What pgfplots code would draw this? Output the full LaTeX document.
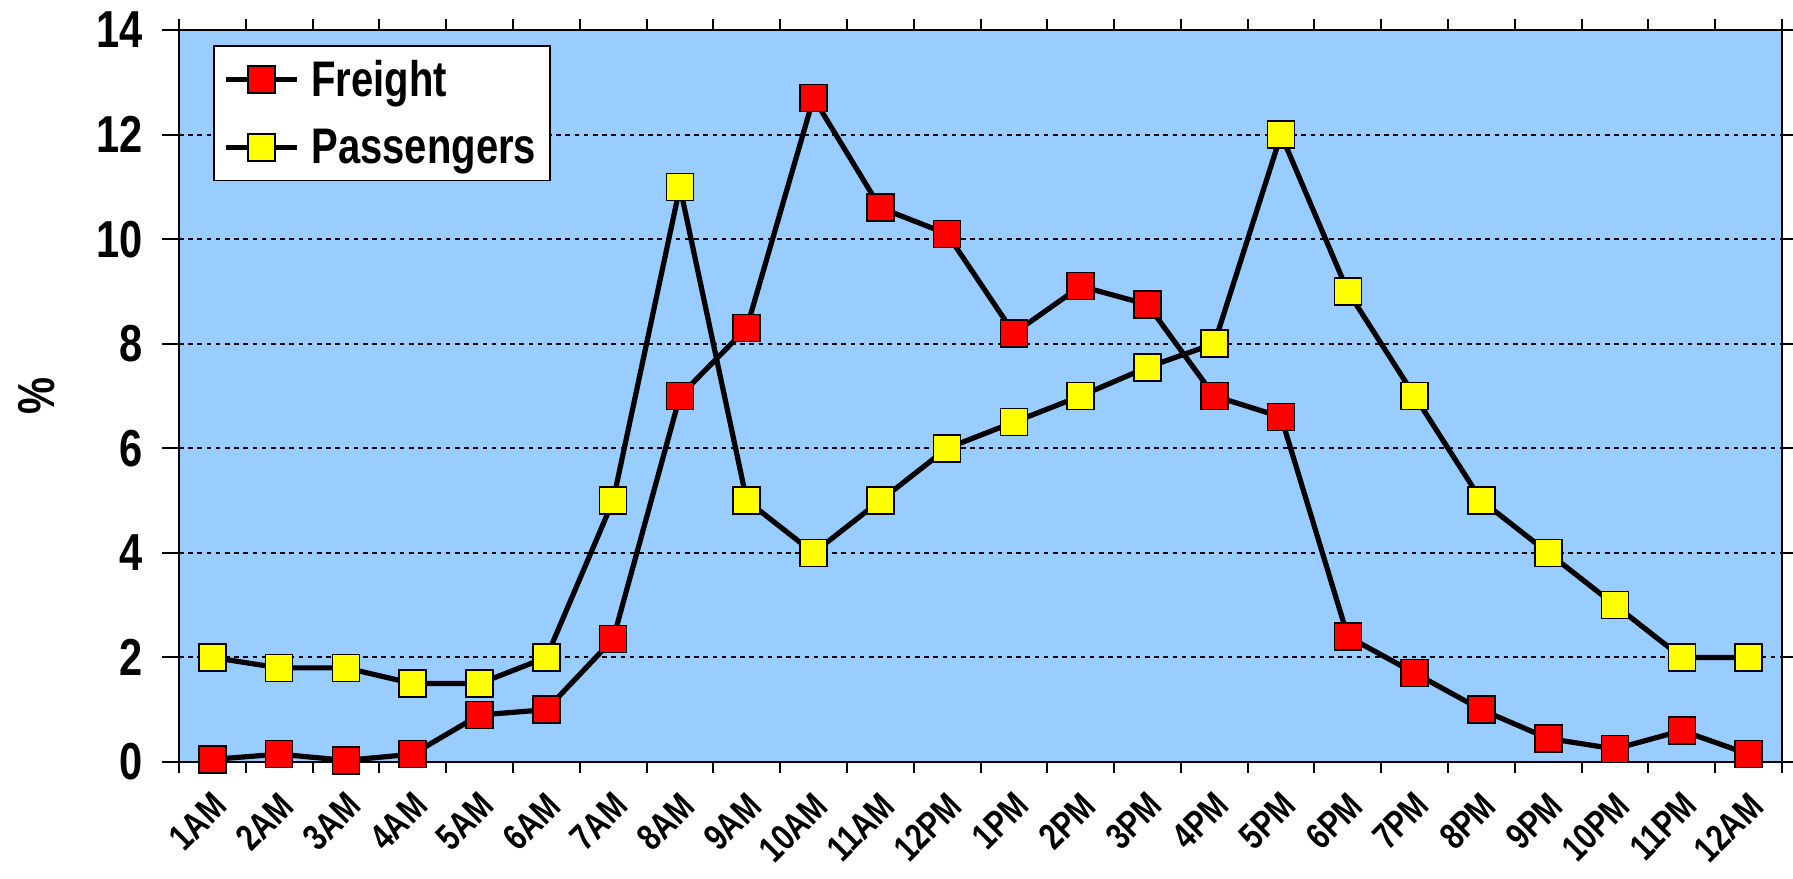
\documentclass[border=0pt]{standalone}
\usepackage{pgfplots}
\pgfplotsset{compat=1.18}
\usepackage{fontspec}
\setmainfont{Liberation Sans}[FakeStretch=0.8]
\definecolor{bgblue}{HTML}{99CCFF}
\definecolor{fred}{HTML}{FF0000}
\definecolor{pyel}{HTML}{FFFF00}
\begin{document}
\begin{tikzpicture}
\useasboundingbox (-89.5pt,-58pt) rectangle (807pt,381pt);
\begin{axis}[
  scale only axis,
  width=801.5pt, height=366pt,
  at={(0,0)}, anchor=south west,
  xmin=-0.5, xmax=23.5, ymin=0, ymax=14,
  axis background/.style={fill=bgblue},
  axis line style={black, line width=1pt},
  xtick={0,...,23},
  xticklabels={1AM,2AM,3AM,4AM,5AM,6AM,7AM,8AM,9AM,10AM,11AM,12PM,1PM,2PM,3PM,4PM,5PM,6PM,7PM,8PM,9PM,10PM,11PM,12AM},
  minor xtick={-0.5,0.5,...,23.5},
  major x tick style={draw=none},
  ytick={0,2,...,14},
  tick align=outside,
  major tick length=8.5pt,
  minor tick length=5.5pt,
  tick style={black, line width=1pt},
  ymajorgrids,
  y grid style={black, line width=1pt, dash pattern=on 2.3pt off 2.3pt},
  /pgf/number format/assume math mode=true,
  yticklabel style={font=\fontsize{26}{26}\selectfont\bfseries, xshift=-6pt},
  xticklabel style={font=\fontsize{18.5}{18.5}\selectfont\bfseries, rotate=45, anchor=east, yshift=-10pt, xshift=-1pt},
  ylabel={\%},
  every axis y label/.style={at={(axis description cs:-0.089,0.5)}, rotate=90, anchor=center, font=\fontsize{26}{26}\selectfont\bfseries},
  legend style={at={(rel axis cs:0.0212,0.9795)}, anchor=north west, draw=black, line width=0.8pt, fill=white,
    font=\fontsize{25}{25}\selectfont\bfseries, row sep=11pt, inner sep=5pt, cells={anchor=west}},
  legend image code/.code={\draw[mark repeat=2,mark phase=2,#1] plot coordinates {(0cm,0cm) (0.62cm,0cm) (1.24cm,0cm)};},
]
\addplot[black, line width=2.6pt, mark=square*, mark size=6.75pt, mark options={fill=fred, draw=black, line width=0.8pt}] coordinates {
(0,0.05) (1,0.15) (2,0.03) (3,0.15) (4,0.9) (5,1.0) (6,2.35) (7,7.0) (8,8.3) (9,12.7) (10,10.6) (11,10.1)
(12,8.2) (13,9.1) (14,8.75) (15,7.0) (16,6.6) (17,2.4) (18,1.7) (19,1.0) (20,0.45) (21,0.25) (22,0.6) (23,0.15)};
\addlegendentry{\hspace{4pt}Freight}
\addplot[black, line width=2.6pt, mark=square*, mark size=6.75pt, mark options={fill=pyel, draw=black, line width=0.8pt}] coordinates {
(0,2.0) (1,1.8) (2,1.8) (3,1.5) (4,1.5) (5,2.0) (6,5.0) (7,11.0) (8,5.0) (9,4.0) (10,5.0) (11,6.0)
(12,6.5) (13,7.0) (14,7.55) (15,8.0) (16,12.0) (17,9.0) (18,7.0) (19,5.0) (20,4.0) (21,3.0) (22,2.0) (23,2.0)};
\addlegendentry{\hspace{4pt}Passengers}
\end{axis}
\end{tikzpicture}
\end{document}
